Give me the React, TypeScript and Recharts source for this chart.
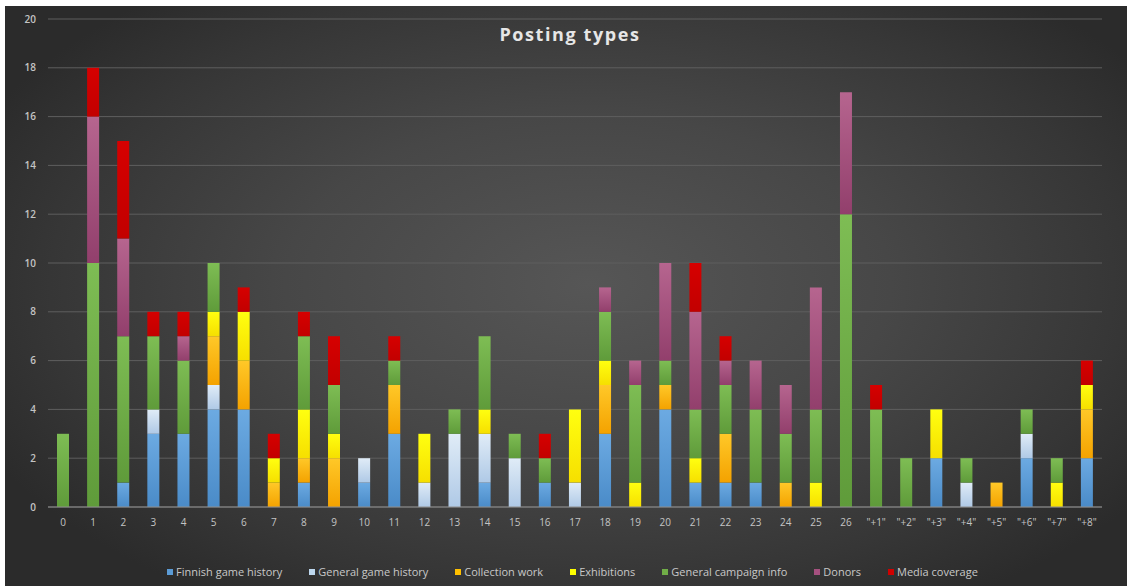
import React from 'react';
import { BarChart, Bar, XAxis, YAxis, CartesianGrid, Legend } from 'recharts';

const categories = ['0','1','2','3','4','5','6','7','8','9','10','11','12','13','14','15','16','17','18','19','20','21','22','23','24','25','26','"+1"','"+2"','"+3"','"+4"','"+5"','"+6"','"+7"','"+8"'];
const finnishGameHistory = [0,0,1,3,3,4,4,0,1,0,1,3,0,0,1,0,1,0,3,0,4,1,1,1,0,0,0,0,0,2,0,0,2,0,2];
const generalGameHistory = [0,0,0,1,0,1,0,0,0,0,1,0,1,3,2,2,0,1,0,0,0,0,0,0,0,0,0,0,0,0,1,0,1,0,0];
const collectionWork =     [0,0,0,0,0,2,2,1,1,2,0,2,0,0,0,0,0,0,2,0,1,0,2,0,1,0,0,0,0,0,0,1,0,0,2];
const exhibitions =        [0,0,0,0,0,1,2,1,2,1,0,0,2,0,1,0,0,3,1,1,0,1,0,0,0,1,0,0,0,2,0,0,0,1,1];
const generalCampaignInfo =[3,10,6,3,3,2,0,0,3,2,0,1,0,1,3,1,1,0,2,4,1,2,2,3,2,3,12,4,2,0,1,0,1,1,0];
const donors =             [0,6,4,0,1,0,0,0,0,0,0,0,0,0,0,0,0,0,1,1,4,4,1,2,2,5,5,0,0,0,0,0,0,0,0];
const mediaCoverage =      [0,2,4,1,1,0,1,1,1,2,0,1,0,0,0,0,1,0,0,0,0,2,1,0,0,0,0,1,0,0,0,0,0,0,1];
const yTicks = [0,2,4,6,8,10,12,14,16,18,20];

const series = [
  { key: 'Finnish game history', values: finnishGameHistory, color: '#5b9bd5', top: '#6caae2', bottom: '#4a8bc8', id: 'gFin' },
  { key: 'General game history', values: generalGameHistory, color: '#bdd7ee', top: '#e0ecf7', bottom: '#afc9e6', id: 'gGen' },
  { key: 'Collection work', values: collectionWork, color: '#ffc000', top: '#ffc828', bottom: '#f4a200', id: 'gCol' },
  { key: 'Exhibitions', values: exhibitions, color: '#ffff00', top: '#ffff10', bottom: '#f6df00', id: 'gExh' },
  { key: 'General campaign info', values: generalCampaignInfo, color: '#70ad47', top: '#7ebd54', bottom: '#5f9b3a', id: 'gCam' },
  { key: 'Donors', values: donors, color: '#a5507f', top: '#b6658f', bottom: '#923f6c', id: 'gDon' },
  { key: 'Media coverage', values: mediaCoverage, color: '#d00000', top: '#d60000', bottom: '#c20000', id: 'gMed' },
];

const data = categories.map((c, i) => {
  const row: Record<string, string | number> = { name: c };
  series.forEach((s) => { row[s.key] = s.values[i]; });
  return row;
});

const FONT = '"Open Sans", "Liberation Sans", sans-serif';

const renderLegend = (props: any) => {
  const { payload } = props;
  const names = new Set((payload || []).map((p: any) => p.value));
  const items = series.filter((s) => names.has(s.key));
  return (
    <div style={{ display: 'flex', justifyContent: 'center', alignItems: 'center', gap: 27, fontFamily: FONT, fontSize: 11, color: '#c8c8c8', paddingLeft: 38 }}>
      {items.map((s) => (
        <div key={s.key} style={{ display: 'flex', alignItems: 'center' }}>
          <span style={{ display: 'inline-block', width: 6, height: 6, background: s.color, marginRight: 3 }} />
          <span>{s.key}</span>
        </div>
      ))}
    </div>
  );
};

export default function App() {
  return (
    <div style={{ position: 'absolute', left: 5, top: 6, width: 1122, height: 580,
      background: 'radial-gradient(ellipse 60% 65% at 52% 48%, #565656 0%, #474747 45%, #363636 80%, #2b2b2b 100%)' }}>
      <div style={{ position: 'absolute', left: 0, top: 16, width: 1122, paddingLeft: 8, boxSizing: 'border-box', textAlign: 'center',
        fontFamily: FONT, fontWeight: 700, fontSize: 18, letterSpacing: 1.6, color: '#e6e6e6' }}>
        Posting types
      </div>
      <BarChart width={1122} height={580} data={data} margin={{ top: 13, right: 25, left: 0, bottom: 34 }} barSize={12}>
        <defs>
          {series.map((s) => (
            <linearGradient key={s.id} id={s.id} x1="0" y1="0" x2="0" y2="1">
              <stop offset="0%" stopColor={s.top} />
              <stop offset="100%" stopColor={s.bottom} />
            </linearGradient>
          ))}
        </defs>
        <CartesianGrid vertical={false} stroke="#5e5e5e" strokeWidth={1} />
        <XAxis dataKey="name" interval={0} height={30} tickLine={false} axisLine={{ stroke: '#8e8e8e' }} tickMargin={6}
          tick={{ fill: '#c4c4c4', fontSize: 10, fontFamily: FONT }} />
        <YAxis width={43} domain={[0, 20]} ticks={yTicks} tickLine={false} axisLine={false} tickMargin={6}
          tick={{ fill: '#c4c4c4', fontSize: 10, fontFamily: FONT, fontWeight: 600 }} />
        <Legend verticalAlign="bottom" content={renderLegend} wrapperStyle={{ bottom: 7 }} />
        {series.map((s) => (
          <Bar key={s.key} dataKey={s.key} stackId="a" fill={`url(#${s.id})`} isAnimationActive={false} legendType="square" />
        ))}
      </BarChart>
    </div>
  );
}
